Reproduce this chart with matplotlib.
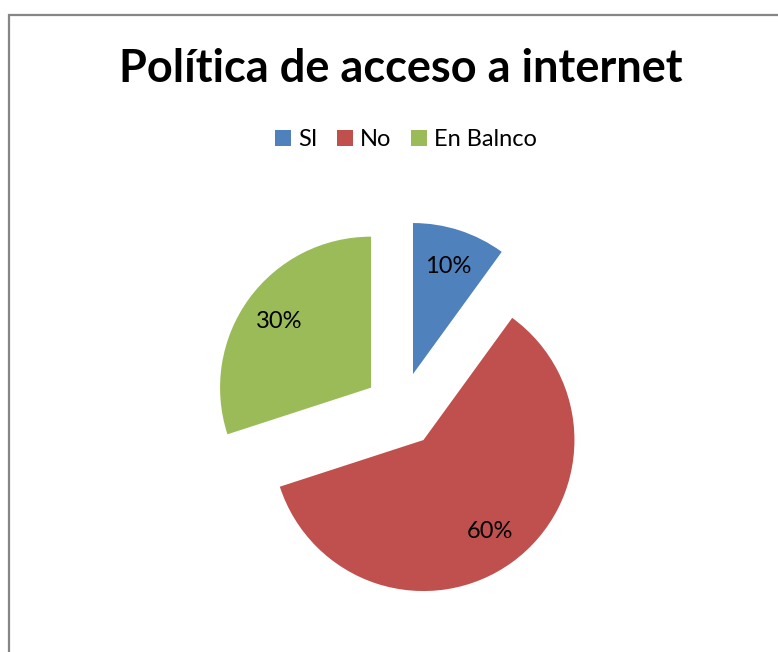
import matplotlib
matplotlib.use('Agg')
import matplotlib.pyplot as plt
from matplotlib.lines import Line2D
from matplotlib.patches import Rectangle

# data
categories = ['SI', 'No', 'En Balnco']
values = [10, 60, 30]
colors = ['#4F81BD', '#C0504D', '#9BBB59']
title = 'Política de acceso a internet'

W, H = 778, 652
plt.rcParams['font.family'] = ['Lato', 'DejaVu Sans']

fig = plt.figure(figsize=(W / 100, H / 100), dpi=100)
ax = fig.add_axes([0, 0, 1, 1])

# pie laid out in pixel units (y up)
radius = 151
explode_px = 37.5
center = (401.4, H - 409.7)
wedges, texts, autotexts = ax.pie(
    values,
    colors=colors,
    explode=[explode_px] * len(values),
    startangle=90,
    counterclock=False,
    radius=radius,
    center=center,
    autopct='%1.0f%%',
    pctdistance=0.75,
    wedgeprops=dict(linewidth=0),
    textprops=dict(fontsize=17, color='black'),
)
ax.set_xlim(0, W)
ax.set_ylim(0, H)
ax.set_aspect('equal')
ax.axis('off')

# title
fig.text(0.5 * (122 + 680) / W, 1 - 69 / H, title, ha='center', va='center',
         fontsize=32.5, fontweight='bold')

# legend
handles = [Line2D([], [], marker='s', linestyle='none', markersize=11,
                  markerfacecolor=c, markeredgewidth=0) for c in colors]
fig.legend(handles, categories, loc='center', bbox_to_anchor=(406 / W, 1 - 140 / H),
           ncol=3, frameon=False, fontsize=17, handlelength=0.7,
           handletextpad=0.3, columnspacing=0.8)

# chart border
fig.patches.append(Rectangle((9 / W, -0.1), 1.2, 1 - 14.5 / H + 0.1,
                             transform=fig.transFigure, fill=False,
                             edgecolor='#868686', linewidth=1.6))

fig.savefig('out.png', dpi=100)
